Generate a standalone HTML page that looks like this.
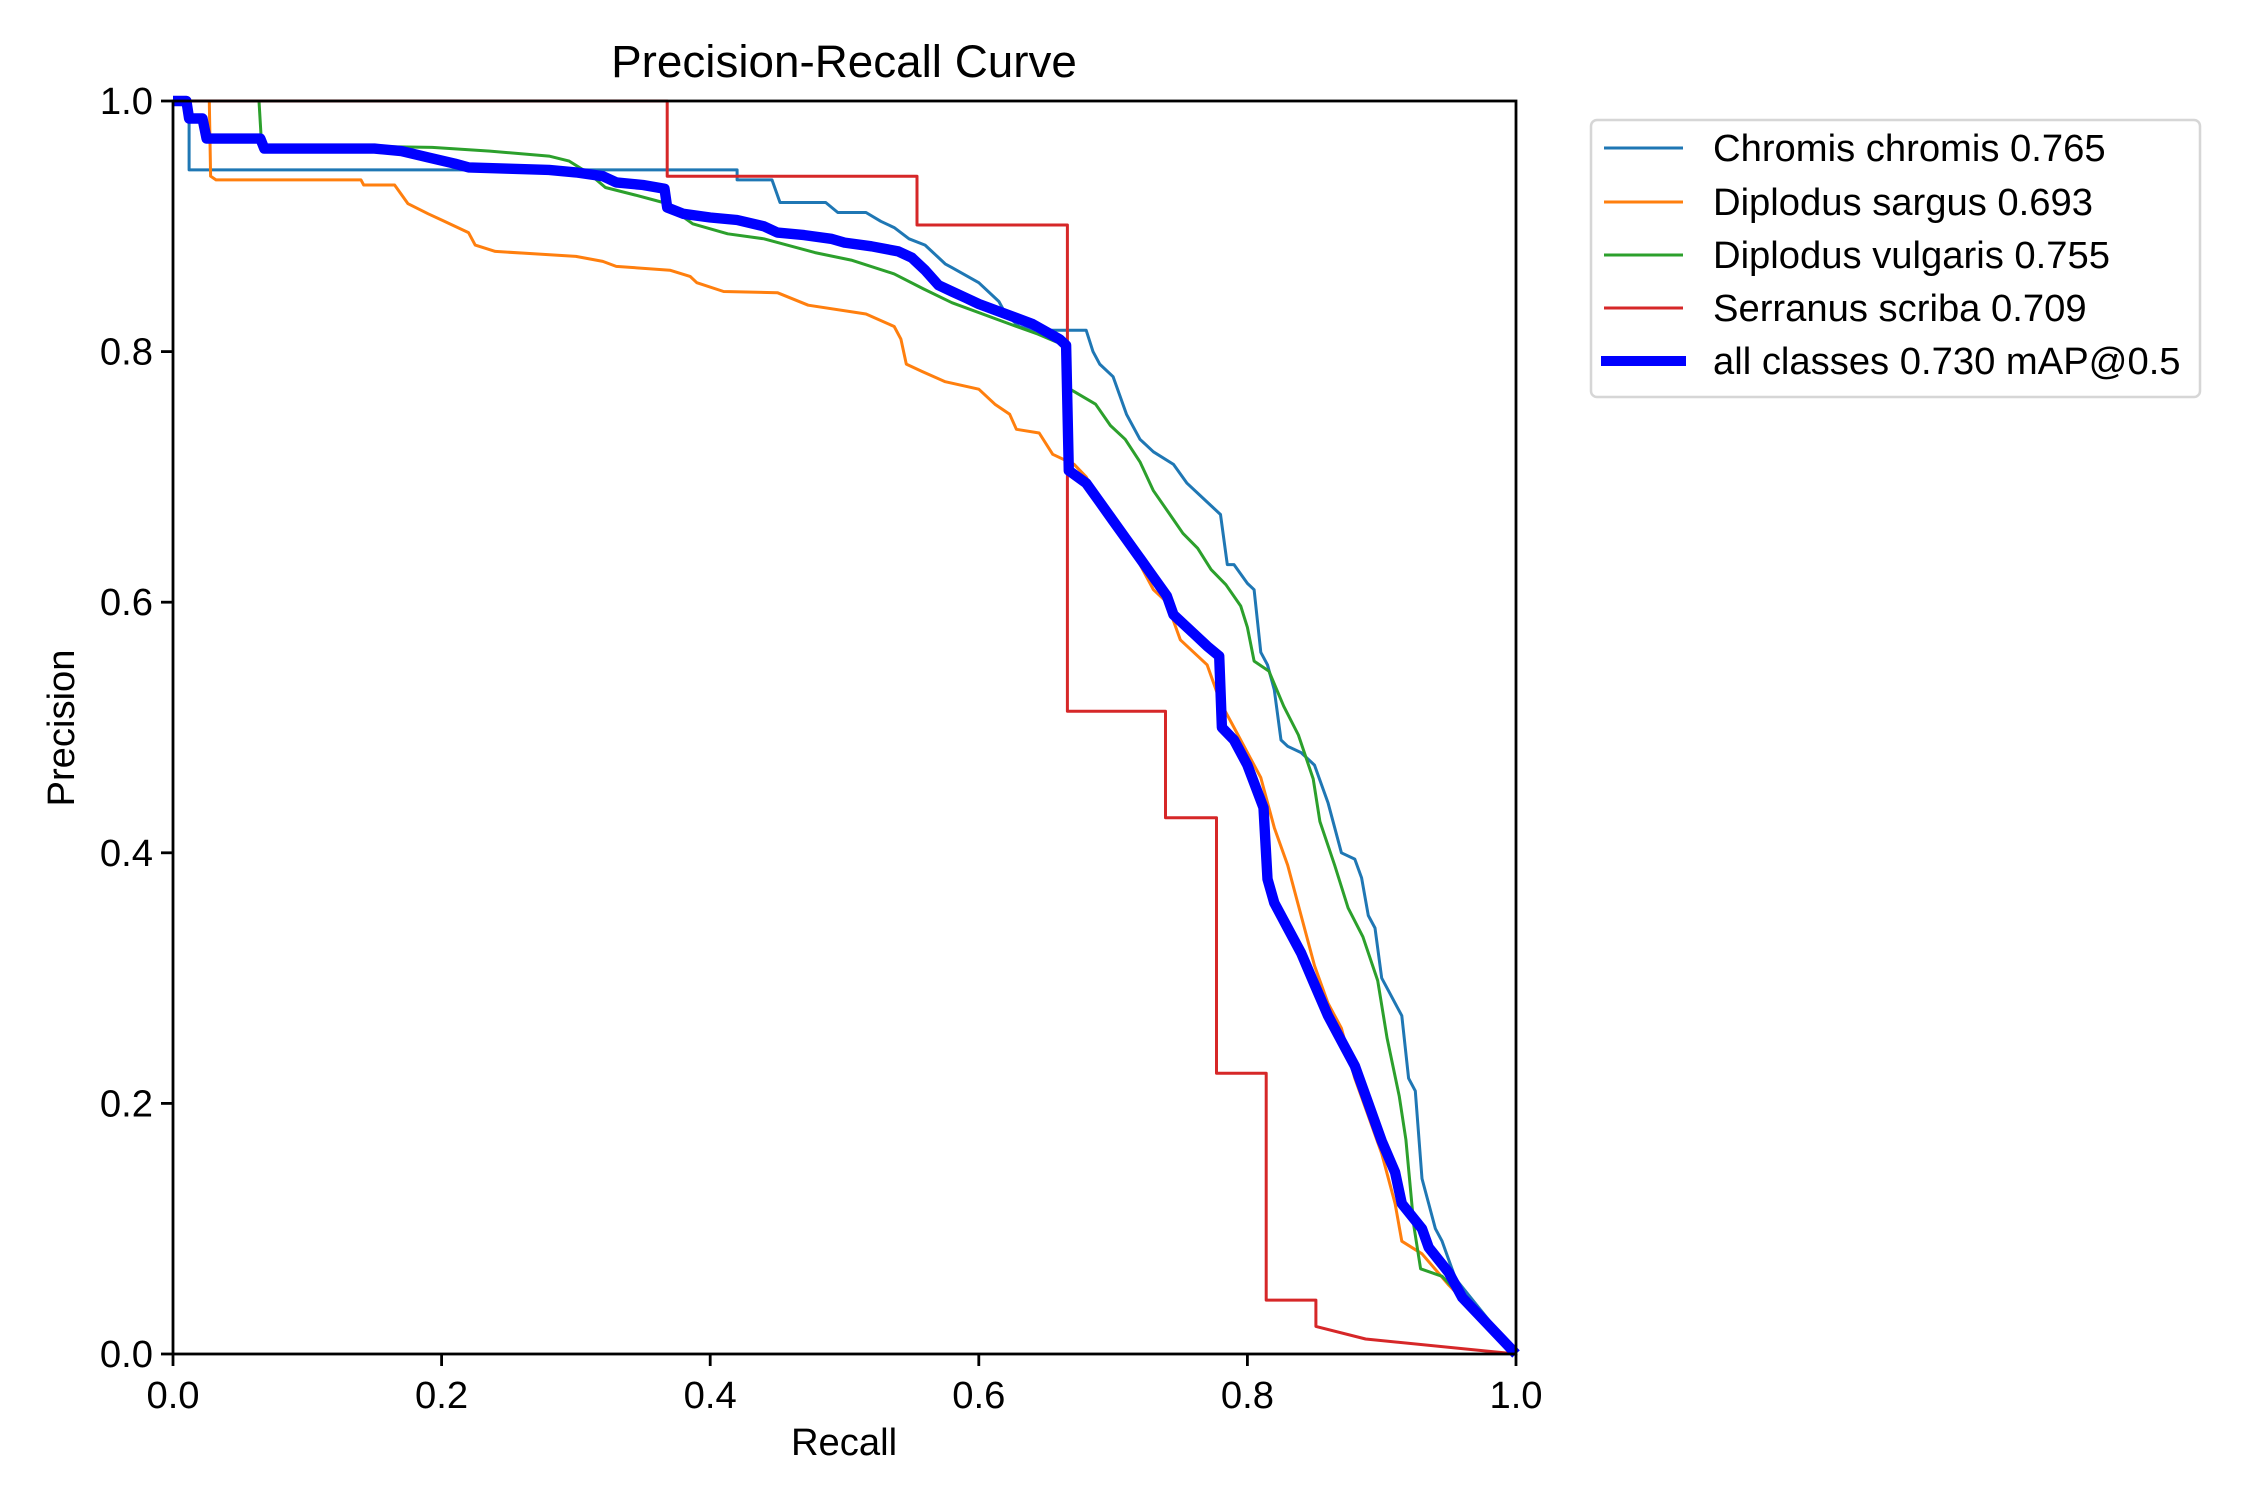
<!DOCTYPE html>
<html><head><meta charset="utf-8"><style>
html,body{margin:0;padding:0;background:#fff;}
svg{display:block;font-family:"Liberation Sans",Arial,sans-serif;}
</style></head><body>
<svg id="chart" width="2250" height="1500" viewBox="0 0 2250 1500" xmlns="http://www.w3.org/2000/svg">
<rect width="2250" height="1500" fill="#fff"/>
<text x="844" y="77" font-size="45.8" text-anchor="middle">Precision-Recall Curve</text>
<g id="plot"></g>
<g id="axes"></g>
<text x="844" y="1455" font-size="38.2" text-anchor="middle">Recall</text>
<text x="0" y="0" font-size="38.2" text-anchor="middle" transform="translate(74,728) rotate(-90)">Precision</text>
<g>
<rect x="1591" y="120" width="609" height="277" rx="6" fill="#fff" stroke="#d6d6d6" stroke-width="2.5"/>
<line x1="1604" y1="148" x2="1683" y2="148" stroke="#1f77b4" stroke-width="3"/>
<text x="1713" y="161" font-size="38.2">Chromis chromis 0.765</text>
<line x1="1604" y1="202" x2="1683" y2="202" stroke="#ff7f0e" stroke-width="3"/>
<text x="1713" y="215" font-size="38.2">Diplodus sargus 0.693</text>
<line x1="1604" y1="255" x2="1683" y2="255" stroke="#2ca02c" stroke-width="3"/>
<text x="1713" y="268" font-size="38.2">Diplodus vulgaris 0.755</text>
<line x1="1604" y1="308" x2="1683" y2="308" stroke="#d62728" stroke-width="3"/>
<text x="1713" y="321" font-size="38.2">Serranus scriba 0.709</text>
<line x1="1601" y1="361" x2="1686" y2="361" stroke="#0000ff" stroke-width="10"/>
<text x="1713" y="374" font-size="38.2">all classes 0.730 mAP@0.5</text>
</g>
</svg>
<script>
const xTicks = [0, 0.2, 0.4, 0.6, 0.8, 1.0];
const yTicks = [0, 0.2, 0.4, 0.6, 0.8, 1.0];
const tickLabels = ["0.0","0.2","0.4","0.6","0.8","1.0"];
const chromisRecall = [0,0.012,0.012,0.42,0.42,0.446,0.452,0.486,0.495,0.516,0.527,0.537,0.548,0.56,0.569,0.575,0.58,0.6,0.615,0.62,0.63,0.64,0.68,0.685,0.69,0.7,0.705,0.71,0.72,0.73,0.745,0.755,0.77,0.78,0.785,0.79,0.8,0.805,0.81,0.815,0.82,0.825,0.83,0.84,0.85,0.86,0.865,0.87,0.88,0.885,0.89,0.895,0.9,0.905,0.91,0.915,0.92,0.925,0.93,0.935,0.94,0.945,0.95,0.955,1];
const chromisPrecision = [1,1,0.945,0.945,0.937,0.937,0.919,0.919,0.911,0.911,0.904,0.899,0.89,0.885,0.876,0.87,0.867,0.855,0.84,0.83,0.82,0.817,0.817,0.8,0.79,0.78,0.765,0.75,0.73,0.72,0.71,0.695,0.68,0.67,0.63,0.63,0.615,0.61,0.56,0.55,0.53,0.49,0.485,0.48,0.47,0.44,0.42,0.4,0.395,0.38,0.35,0.34,0.3,0.29,0.28,0.27,0.22,0.21,0.14,0.12,0.1,0.09,0.075,0.06,0];
const sargusRecall = [0,0.027,0.028,0.032,0.14,0.142,0.165,0.175,0.19,0.2,0.22,0.225,0.24,0.27,0.3,0.32,0.33,0.37,0.385,0.39,0.41,0.45,0.473,0.516,0.537,0.542,0.546,0.558,0.575,0.6,0.612,0.623,0.628,0.645,0.655,0.671,0.68,0.69,0.7,0.71,0.72,0.73,0.74,0.75,0.76,0.77,0.78,0.79,0.8,0.81,0.82,0.83,0.84,0.85,0.86,0.87,0.88,0.89,0.9,0.91,0.915,0.93,0.95,1];
const sargusPrecision = [1,1,0.94,0.937,0.937,0.933,0.933,0.918,0.91,0.905,0.895,0.885,0.88,0.878,0.876,0.872,0.868,0.865,0.86,0.855,0.848,0.847,0.837,0.83,0.82,0.81,0.79,0.784,0.776,0.77,0.758,0.75,0.738,0.735,0.718,0.71,0.7,0.68,0.67,0.65,0.63,0.61,0.6,0.57,0.56,0.55,0.52,0.5,0.48,0.46,0.42,0.39,0.35,0.31,0.28,0.26,0.22,0.19,0.16,0.12,0.09,0.08,0.055,0];
const vulgarisRecall = [0,0.064,0.066,0.193,0.236,0.28,0.295,0.31,0.322,0.344,0.365,0.387,0.413,0.44,0.478,0.505,0.537,0.559,0.58,0.623,0.644,0.666,0.668,0.687,0.698,0.709,0.72,0.73,0.741,0.752,0.763,0.773,0.784,0.795,0.8,0.805,0.816,0.827,0.838,0.849,0.854,0.865,0.875,0.886,0.897,0.904,0.913,0.918,0.924,0.929,0.945,1];
const vulgarisPrecision = [1,1,0.965,0.963,0.96,0.956,0.952,0.942,0.931,0.925,0.919,0.902,0.894,0.89,0.879,0.873,0.862,0.85,0.839,0.822,0.814,0.804,0.77,0.758,0.741,0.73,0.712,0.689,0.672,0.655,0.643,0.626,0.614,0.597,0.58,0.553,0.545,0.517,0.494,0.459,0.425,0.39,0.356,0.333,0.298,0.252,0.206,0.171,0.102,0.068,0.062,0];
const serranusRecall = [0,0.368,0.368,0.554,0.554,0.666,0.666,0.739,0.739,0.777,0.777,0.814,0.814,0.851,0.851,0.888,1];
const serranusPrecision = [1,1,0.94,0.94,0.901,0.901,0.513,0.513,0.428,0.428,0.224,0.224,0.043,0.043,0.022,0.012,0];
const allRecall = [0,0.01,0.012,0.022,0.025,0.065,0.068,0.15,0.17,0.19,0.21,0.22,0.25,0.28,0.3,0.32,0.33,0.35,0.366,0.368,0.38,0.4,0.42,0.44,0.45,0.47,0.49,0.5,0.52,0.54,0.55,0.56,0.57,0.58,0.59,0.6,0.62,0.64,0.66,0.665,0.667,0.68,0.69,0.7,0.71,0.72,0.73,0.74,0.745,0.76,0.77,0.779,0.781,0.79,0.8,0.812,0.815,0.82,0.83,0.84,0.85,0.86,0.87,0.88,0.89,0.9,0.91,0.915,0.93,0.935,0.95,0.96,1];
const allPrecision = [1,1,0.986,0.986,0.97,0.97,0.962,0.962,0.96,0.955,0.95,0.947,0.946,0.945,0.943,0.94,0.935,0.933,0.93,0.915,0.91,0.907,0.905,0.9,0.895,0.893,0.89,0.887,0.884,0.88,0.875,0.865,0.853,0.848,0.843,0.838,0.83,0.822,0.81,0.805,0.705,0.695,0.68,0.665,0.65,0.635,0.62,0.605,0.59,0.575,0.565,0.557,0.5,0.49,0.47,0.436,0.379,0.36,0.34,0.32,0.295,0.27,0.25,0.23,0.2,0.17,0.145,0.12,0.1,0.085,0.065,0.045,0];

const NS = "http://www.w3.org/2000/svg";
const L = 173, R = 1516, T = 101, B = 1354;
function xs(v){ return L + v * (R - L); }
function ys(v){ return B - v * (B - T); }
const plot = document.getElementById('plot');
const axes = document.getElementById('axes');

function drawSeries(rec, prec, color, width, name){
  const p = document.createElementNS(NS, 'polyline');
  p.setAttribute('points', rec.map((r,i)=> xs(r).toFixed(1)+','+ys(prec[i]).toFixed(1)).join(' '));
  p.setAttribute('fill','none');
  p.setAttribute('stroke', color);
  p.setAttribute('stroke-width', width);
  p.setAttribute('stroke-linejoin','round');
  
  
  plot.appendChild(p);
}
drawSeries(chromisRecall, chromisPrecision, '#1f77b4', 3, 'series-chromis-chromis');
drawSeries(sargusRecall, sargusPrecision, '#ff7f0e', 3, 'series-diplodus-sargus');
drawSeries(vulgarisRecall, vulgarisPrecision, '#2ca02c', 3, 'series-diplodus-vulgaris');
drawSeries(serranusRecall, serranusPrecision, '#d62728', 3, 'series-serranus-scriba');
drawSeries(allRecall, allPrecision, '#0000ff', 10.4, 'series-all-classes');

const frame = document.createElementNS(NS,'rect');
frame.setAttribute('x',L); frame.setAttribute('y',T);
frame.setAttribute('width',R-L); frame.setAttribute('height',B-T);
frame.setAttribute('fill','none'); frame.setAttribute('stroke','#000'); frame.setAttribute('stroke-width','2.8');


axes.appendChild(frame);

xTicks.forEach((v,i)=>{
  const t = document.createElementNS(NS,'line');
  t.setAttribute('x1',xs(v)); t.setAttribute('x2',xs(v));
  t.setAttribute('y1',B); t.setAttribute('y2',B+12);
  t.setAttribute('stroke','#000'); t.setAttribute('stroke-width','2.8');
  
  
  axes.appendChild(t);
  const tx = document.createElementNS(NS,'text');
  tx.setAttribute('x',xs(v)); tx.setAttribute('y',B+54);
  tx.setAttribute('font-size','38.2'); tx.setAttribute('text-anchor','middle');
  tx.textContent = tickLabels[i];
  
  
  axes.appendChild(tx);
});
yTicks.forEach((v,i)=>{
  const t = document.createElementNS(NS,'line');
  t.setAttribute('x1',L-12); t.setAttribute('x2',L);
  t.setAttribute('y1',ys(v)); t.setAttribute('y2',ys(v));
  t.setAttribute('stroke','#000'); t.setAttribute('stroke-width','2.8');
  
  
  axes.appendChild(t);
  const tx = document.createElementNS(NS,'text');
  tx.setAttribute('x',L-20); tx.setAttribute('y',ys(v)+13);
  tx.setAttribute('font-size','38.2'); tx.setAttribute('text-anchor','end');
  tx.textContent = tickLabels[i];
  
  
  axes.appendChild(tx);
});
</script>
</body></html>
